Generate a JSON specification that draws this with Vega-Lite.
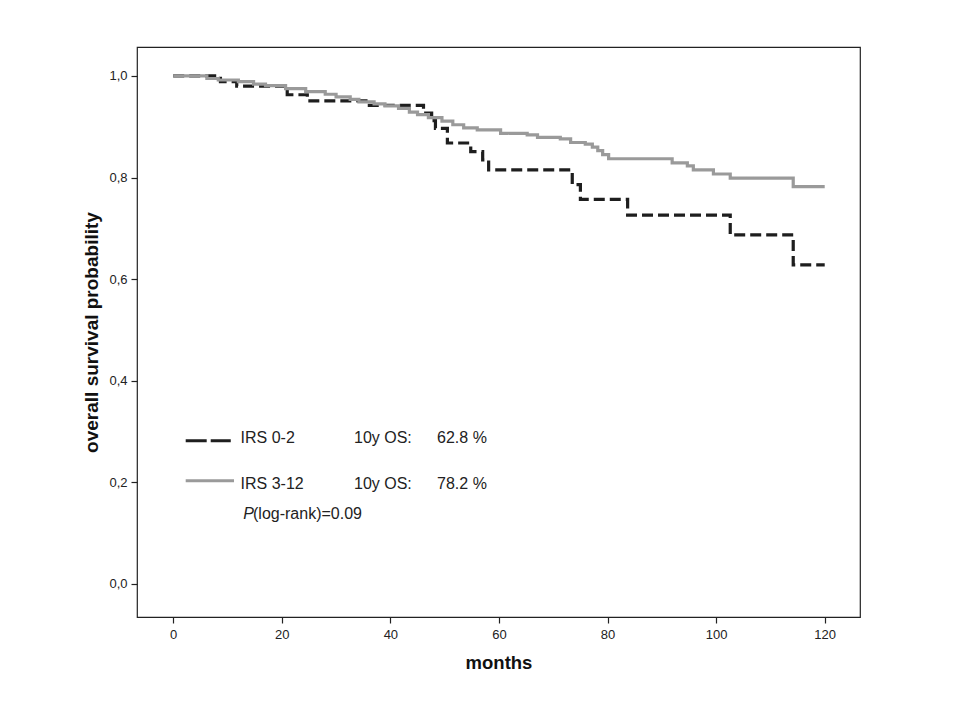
{
  "$schema": "https://vega.github.io/schema/vega-lite/v6.json",
  "autosize": {"type": "none"},
  "width": 723,
  "height": 570,
  "padding": {"left": 137, "top": 47, "right": 100, "bottom": 103},
  "background": "white",
  "config": {
    "view": {"stroke": "#222222", "strokeWidth": 1.2},
    "font": "Liberation Sans",
    "axis": {"grid": false, "domain": false, "tickColor": "#222222", "tickSize": 6, "tickWidth": 1.2, "labelColor": "#222222", "labelFont": "Liberation Sans", "labelFontSize": 13, "titleColor": "#111111", "titleFont": "Liberation Sans", "titleFontWeight": "bold"}
  },
  "datasets": {
    "km": [
      {"group": "IRS 0-2", "month": 0, "surv": 1.0},
      {"group": "IRS 0-2", "month": 8.7, "surv": 0.989},
      {"group": "IRS 0-2", "month": 11.7, "surv": 0.98},
      {"group": "IRS 0-2", "month": 21.0, "surv": 0.963},
      {"group": "IRS 0-2", "month": 24.7, "surv": 0.951},
      {"group": "IRS 0-2", "month": 35.5, "surv": 0.942},
      {"group": "IRS 0-2", "month": 46.1, "surv": 0.927},
      {"group": "IRS 0-2", "month": 47.6, "surv": 0.912},
      {"group": "IRS 0-2", "month": 48.3, "surv": 0.897},
      {"group": "IRS 0-2", "month": 50.5, "surv": 0.868},
      {"group": "IRS 0-2", "month": 54.8, "surv": 0.851},
      {"group": "IRS 0-2", "month": 57.0, "surv": 0.835},
      {"group": "IRS 0-2", "month": 58.1, "surv": 0.815},
      {"group": "IRS 0-2", "month": 73.5, "surv": 0.786},
      {"group": "IRS 0-2", "month": 75.0, "surv": 0.757},
      {"group": "IRS 0-2", "month": 83.7, "surv": 0.726},
      {"group": "IRS 0-2", "month": 102.6, "surv": 0.687},
      {"group": "IRS 0-2", "month": 114.2, "surv": 0.628},
      {"group": "IRS 0-2", "month": 120, "surv": 0.628},
      {"group": "IRS 3-12", "month": 0, "surv": 1.0},
      {"group": "IRS 3-12", "month": 6.2, "surv": 0.995},
      {"group": "IRS 3-12", "month": 8.3, "surv": 0.992},
      {"group": "IRS 3-12", "month": 12.0, "surv": 0.989},
      {"group": "IRS 3-12", "month": 14.8, "surv": 0.984},
      {"group": "IRS 3-12", "month": 17.0, "surv": 0.981},
      {"group": "IRS 3-12", "month": 20.7, "surv": 0.975},
      {"group": "IRS 3-12", "month": 24.4, "surv": 0.969},
      {"group": "IRS 3-12", "month": 28.0, "surv": 0.964},
      {"group": "IRS 3-12", "month": 30.0, "surv": 0.959},
      {"group": "IRS 3-12", "month": 32.6, "surv": 0.954},
      {"group": "IRS 3-12", "month": 34.2, "surv": 0.949},
      {"group": "IRS 3-12", "month": 37.0, "surv": 0.945},
      {"group": "IRS 3-12", "month": 39.0, "surv": 0.941},
      {"group": "IRS 3-12", "month": 41.5, "surv": 0.936},
      {"group": "IRS 3-12", "month": 43.5, "surv": 0.929},
      {"group": "IRS 3-12", "month": 45.0, "surv": 0.924},
      {"group": "IRS 3-12", "month": 47.0, "surv": 0.918},
      {"group": "IRS 3-12", "month": 49.5, "surv": 0.911},
      {"group": "IRS 3-12", "month": 51.5, "surv": 0.904},
      {"group": "IRS 3-12", "month": 53.5, "surv": 0.898},
      {"group": "IRS 3-12", "month": 56.0, "surv": 0.894},
      {"group": "IRS 3-12", "month": 60.3, "surv": 0.887},
      {"group": "IRS 3-12", "month": 65.2, "surv": 0.884},
      {"group": "IRS 3-12", "month": 67.1, "surv": 0.879},
      {"group": "IRS 3-12", "month": 71.3, "surv": 0.876},
      {"group": "IRS 3-12", "month": 73.2, "surv": 0.869},
      {"group": "IRS 3-12", "month": 75.9, "surv": 0.866},
      {"group": "IRS 3-12", "month": 77.2, "surv": 0.86},
      {"group": "IRS 3-12", "month": 78.2, "surv": 0.853},
      {"group": "IRS 3-12", "month": 79.1, "surv": 0.845},
      {"group": "IRS 3-12", "month": 80.2, "surv": 0.837},
      {"group": "IRS 3-12", "month": 91.9, "surv": 0.829},
      {"group": "IRS 3-12", "month": 94.7, "surv": 0.823},
      {"group": "IRS 3-12", "month": 95.8, "surv": 0.815},
      {"group": "IRS 3-12", "month": 99.5, "surv": 0.807},
      {"group": "IRS 3-12", "month": 102.6, "surv": 0.799},
      {"group": "IRS 3-12", "month": 114.2, "surv": 0.782},
      {"group": "IRS 3-12", "month": 120, "surv": 0.782}
    ],
    "one": [{}]
  },
  "layer": [
    {
      "data": {"name": "km"},
      "mark": {"type": "line", "interpolate": "step-after", "strokeWidth": 3.2, "clip": true},
      "encoding": {
        "x": {"field": "month", "type": "quantitative", "scale": {"domain": [-6.67, 126.5], "nice": false, "zero": false},
              "axis": {"values": [0, 20, 40, 60, 80, 100, 120], "title": "months", "titleFontSize": 18.5, "labelPadding": 5, "titlePadding": 12}},
        "y": {"field": "surv", "type": "quantitative", "scale": {"domain": [-0.065, 1.057], "nice": false, "zero": false},
              "axis": {"values": [0, 0.2, 0.4, 0.6, 0.8, 1.0], "labelExpr": "replace(format(datum.value, '.1f'), '.', ',')", "title": "overall survival probability", "titleFontSize": 19, "labelPadding": 4, "titlePadding": 7}},
        "color": {"field": "group", "type": "nominal", "scale": {"domain": ["IRS 0-2", "IRS 3-12"], "range": ["#1e1e1e", "#9a9a9a"]}, "legend": null},
        "strokeDash": {"field": "group", "type": "nominal", "scale": {"domain": ["IRS 0-2", "IRS 3-12"], "range": [[11, 5], [1, 0]]}, "legend": null},
        "order": {"field": "month", "type": "quantitative"}
      }
    },
    {
      "data": {"name": "one"},
      "mark": {"type": "rule", "stroke": "#1e1e1e", "strokeWidth": 3, "strokeDash": [21, 4]},
      "encoding": {"x": {"datum": 2.3}, "x2": {"datum": 10.6}, "y": {"datum": 0.282}}
    },
    {
      "data": {"name": "one"},
      "mark": {"type": "rule", "stroke": "#9a9a9a", "strokeWidth": 3},
      "encoding": {"x": {"datum": 2.3}, "x2": {"datum": 11.2}, "y": {"datum": 0.203}}
    },
    {
      "data": {"name": "one"},
      "mark": {"type": "text", "text": "IRS 0-2", "align": "left", "baseline": "alphabetic", "fontSize": 16, "color": "#222222"},
      "encoding": {"x": {"datum": 12.4}, "y": {"datum": 0.277}}
    },
    {
      "data": {"name": "one"},
      "mark": {"type": "text", "text": "10y OS:", "align": "left", "baseline": "alphabetic", "fontSize": 16, "color": "#222222"},
      "encoding": {"x": {"datum": 33.3}, "y": {"datum": 0.277}}
    },
    {
      "data": {"name": "one"},
      "mark": {"type": "text", "text": "62.8 %", "align": "left", "baseline": "alphabetic", "fontSize": 16, "color": "#222222"},
      "encoding": {"x": {"datum": 48.6}, "y": {"datum": 0.277}}
    },
    {
      "data": {"name": "one"},
      "mark": {"type": "text", "text": "IRS 3-12", "align": "left", "baseline": "alphabetic", "fontSize": 16, "color": "#222222"},
      "encoding": {"x": {"datum": 12.4}, "y": {"datum": 0.186}}
    },
    {
      "data": {"name": "one"},
      "mark": {"type": "text", "text": "10y OS:", "align": "left", "baseline": "alphabetic", "fontSize": 16, "color": "#222222"},
      "encoding": {"x": {"datum": 33.3}, "y": {"datum": 0.186}}
    },
    {
      "data": {"name": "one"},
      "mark": {"type": "text", "text": "78.2 %", "align": "left", "baseline": "alphabetic", "fontSize": 16, "color": "#222222"},
      "encoding": {"x": {"datum": 48.6}, "y": {"datum": 0.186}}
    },
    {
      "data": {"name": "one"},
      "mark": {"type": "text", "text": "P", "align": "left", "baseline": "alphabetic", "fontSize": 16, "fontStyle": "italic", "color": "#222222"},
      "encoding": {"x": {"datum": 12.9}, "y": {"datum": 0.127}}
    },
    {
      "data": {"name": "one"},
      "mark": {"type": "text", "text": "(log-rank)=0.09", "align": "left", "baseline": "alphabetic", "fontSize": 16, "color": "#222222"},
      "encoding": {"x": {"datum": 14.7}, "y": {"datum": 0.127}}
    }
  ]
}
